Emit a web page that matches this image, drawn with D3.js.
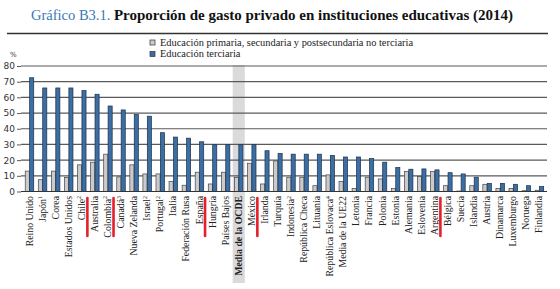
<!DOCTYPE html>
<html>
<head>
<meta charset="utf-8">
<style>
  body { margin: 0; background: #fff; }
  .grid line { stroke: #5a5a5a; stroke-width: 1.2px; }
  .yaxis text { font-family: "DejaVu Sans", sans-serif; font-size: 9px; fill: #333; }
  .yaxis path, .yaxis line { stroke: #5a5a5a; }
  .lbl { font-family: "Liberation Serif", serif; font-size: 9.8px; fill: #222; }
  .legend text { font-family: "Liberation Serif", serif; font-size: 10.4px; fill: #222; }
</style>
<script src="https://cdn.jsdelivr.net/npm/d3@7"></script>
</head>
<body>
<script>
// categories (left to right), footnote number after name ('' = none)
const paises = ["Reino Unido", "Japón", "Corea", "Estados Unidos", "Chile", "Australia", "Colombia",
  "Canadá", "Nueva Zelanda", "Israel", "Portugal", "Italia", "Federación Rusa", "España", "Hungría",
  "Países Bajos", "Media de la OCDE", "México", "Irlanda", "Turquía", "Indonesia", "República Checa",
  "Lituania", "República Eslovaca", "Media de la UE22", "Letonia", "Francia", "Polonia", "Estonia",
  "Alemania", "Eslovenia", "Argentina", "Bélgica", "Suecia", "Islandia", "Austria", "Dinamarca",
  "Luxemburgo", "Noruega", "Finlandia"];
const notas = ["", "1", "", "", "2", "", "2", "3", "", "2", "2", "", "", "", "", "", "", "", "", "",
  "2", "", "", "4", "", "", "", "", "", "", "", "", "", "", "", "", "", "", "", ""];

// % private spending, primary/secondary/post-secondary non-tertiary
const primaria = [13, 7.5, 13, 9, 17, 18.7, 23.8, 9.3, 17, 11.2, 11.2, 6.3, 4, 12.3, 4.8, 12.3, 9,
  18, 4.8, 19.5, 9.1, 9.1, 3.7, 10.6, 6.3, 2, 9.1, 8, 2, 12.8, 9.5, 12.7, 3.7, 0.3, 3.7, 4.6, 2, 2, 0.5, 0.8];
// % private spending, tertiary
const terciaria = [72.5, 66, 66, 66, 64.3, 62, 54.5, 52, 49, 48, 37.5, 34.7, 34, 31.7, 29.8, 29.8,
  29.8, 29.8, 26, 24.3, 23.8, 23.8, 23.8, 23, 22, 22, 21, 18.7, 15.3, 14.2, 14.4, 13.8, 12, 11.2,
  9.1, 5.2, 5.2, 4.6, 3.7, 3.1];

const yTicks = [0, 10, 20, 30, 40, 50, 60, 70, 80];
const series = ["Educación primaria, secundaria y postsecundaria no terciaria", "Educación terciaria"];
const colores = ["#cbcbcb", "#3b6ea5"];
const destacado = "Media de la OCDE";
// hand-drawn red marks next to these labels
const marcados = ["Australia", "Canadá", "Hungría", "Irlanda", "Bélgica"];

const W = 560, H = 289;
const svg = d3.select("body").append("svg").attr("width", W).attr("height", H);

const x = d3.scaleBand().domain(paises).range([23, 546]);
const y = d3.scaleLinear().domain([0, 80]).range([191.5, 66]);
const sub = d3.scaleBand().domain([0, 1]).range([-4.3, 4.5]);

// title
const title = svg.append("text").attr("x", 31).attr("y", 20)
  .style("font-family", "Liberation Serif, serif");
title.append("tspan").attr("fill", "#3a78b5").attr("font-size", 14.5).text("Gráfico B3.1. ");
title.append("tspan").attr("fill", "#111").attr("font-weight", "bold").attr("font-size", 15)
  .text("Proporción de gasto privado en instituciones educativas (2014)");
svg.append("line").attr("x1", 7).attr("x2", 548).attr("y1", 33.5).attr("y2", 33.5)
  .attr("stroke", "#333").attr("stroke-width", 1.5);

// legend
const leg = svg.append("g").attr("class", "legend");
series.forEach((s, i) => {
  const g = leg.append("g").attr("transform", `translate(150,${40 + i * 11.5})`);
  g.append("rect").attr("width", 5).attr("height", 5).attr("fill", colores[i])
    .attr("stroke", "#333").attr("stroke-width", 0.7);
  g.append("text").attr("x", 10).attr("y", 5.5).text(s);
});
svg.append("text").attr("x", 10).attr("y", 57).attr("font-family", "DejaVu Sans, sans-serif")
  .attr("font-size", 7).attr("fill", "#333").text("%");

// OECD average highlight band
svg.append("rect").attr("x", x(destacado) + 0.5).attr("width", x.bandwidth() - 1)
  .attr("y", 65).attr("height", 218).attr("fill", "#dadada");

// gridlines
svg.append("g").attr("class", "grid").selectAll("line").data(yTicks).join("line")
  .attr("x1", 21).attr("x2", 547).attr("y1", d => y(d)).attr("y2", d => y(d));

// y axis
svg.append("g").attr("class", "yaxis").attr("transform", "translate(21,0)")
  .call(d3.axisLeft(y).tickValues(yTicks).tickSize(4).tickPadding(2))
  .call(g => g.select(".domain").remove());

// bars
const vals = [primaria, terciaria];
const grp = svg.append("g").selectAll("g").data(paises).join("g")
  .attr("transform", d => `translate(${x(d) + x.bandwidth() / 2},0)`);
grp.selectAll("rect").data((d, i) => [0, 1].map(k => ({ k, v: vals[k][i] }))).join("rect")
  .attr("x", d => sub(d.k)).attr("width", sub.bandwidth() - 0.3)
  .attr("y", d => y(d.v)).attr("height", d => y(0) - y(d.v))
  .attr("fill", d => colores[d.k]).attr("stroke", d => d.k ? "#1c2f48" : "#444")
  .attr("stroke-width", 0.7);

// baseline
svg.append("line").attr("x1", 21).attr("x2", 547).attr("y1", y(0)).attr("y2", y(0))
  .attr("stroke", "#333").attr("stroke-width", 1.2);

// category labels
const lbl = svg.append("g").selectAll("text").data(paises).join("text")
  .attr("class", "lbl")
  .attr("transform", d => `translate(${x(d) + x.bandwidth() / 2 + 3},196) rotate(-90)`)
  .attr("text-anchor", "end")
  .attr("font-weight", d => d === destacado ? "bold" : null);
lbl.append("tspan").text(d => d);
lbl.filter((d, i) => notas[i]).append("tspan")
  .attr("font-size", 6).attr("dy", -3.5).text((d) => notas[paises.indexOf(d)]);

// red marks
svg.append("g").selectAll("line").data(marcados).join("line")
  .attr("x1", d => x(d) - 1).attr("x2", d => x(d) - 1)
  .attr("y1", 198).attr("y2", 236)
  .attr("stroke", "#e5202a").attr("stroke-width", 2.6).attr("stroke-linecap", "round");
</script>
</body>
</html>
